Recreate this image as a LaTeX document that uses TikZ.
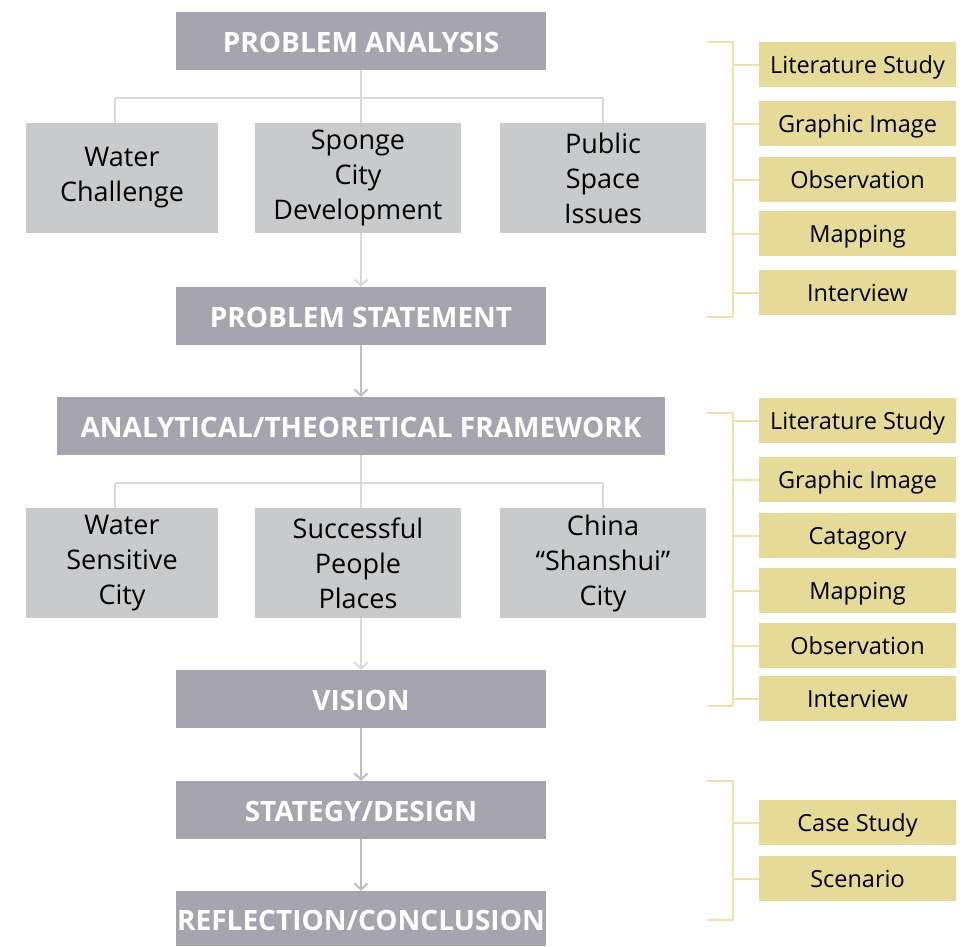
\documentclass[tikz,border=0pt]{standalone}
\usepackage{fontspec}
\setmainfont{Open Sans}
\usetikzlibrary{arrows.meta}
\definecolor{headgray}{RGB}{166,165,175}
\definecolor{subgray}{RGB}{201,202,204}
\definecolor{toolgold}{RGB}{230,218,152}
\definecolor{bracketgold}{RGB}{238,228,170}
\definecolor{linkgray}{RGB}{217,217,217}
\definecolor{flowgray}{RGB}{190,190,194}
\begin{document}
\begin{tikzpicture}[x=1pt,y=-1pt,>={Straight Barb[length=6pt,width=13pt]},
  head/.style={fill=headgray,minimum width=370pt,minimum height=58pt,inner sep=0pt,text=white,text height=23pt,text depth=0pt,font=\fontsize{28}{32}\selectfont\bfseries},
  sub/.style={fill=subgray,minimum width=206pt,minimum height=110pt,inner sep=0pt,align=center,font=\fontsize{27}{35}\selectfont},
  tool/.style={fill=toolgold,minimum width=197pt,minimum height=45pt,inner sep=0pt,text height=18pt,text depth=0pt,font=\fontsize{23.5}{28}\selectfont},
  link/.style={draw=linkgray,line width=2pt},
  flow/.style={draw=flowgray,line width=2pt},
  brk/.style={draw=bracketgold,line width=2pt}]
\useasboundingbox (0,0) rectangle (966,946);
% main column
\node[head] (pa) at (361,41) {PROBLEM ANALYSIS};
\node[sub,minimum width=192pt] (wc) at (122,178) {Water\\Challenge};
\node[sub] (sc) at (358,178) {Sponge\\City\\Development};
\node[sub] (ps) at (603,178) {Public\\Space\\Issues};
\node[head] (pst) at (361,316) {PROBLEM STATEMENT};
\node[head,minimum width=608pt] (atf) at (361,426) {ANALYTICAL/THEORETICAL FRAMEWORK};
\node[sub,minimum width=192pt] (ws) at (122,563) {Water\\Sensitive\\City};
\node[sub] (sp) at (358,563) {Successful\\People\\Places};
\node[sub] (cs) at (603,563) {China\\“Shanshui”\\City};
\node[head] (vi) at (361,699) {VISION};
\node[head] (sd) at (361,810) {STATEGY/DESIGN};
\node[head,minimum height=55pt] (rc) at (361,918.5) {REFLECTION/CONCLUSION};
% branches
\coordinate (ja) at (361,98);
\coordinate (jal) at (115,98);
\coordinate (jar) at (603,98);
\coordinate (jb) at (361,483);
\coordinate (jbl) at (115,483);
\coordinate (jbr) at (603,483);
\draw[link] (pa.south) -- (ja);
\draw[link] (jal) -- (jar);
\draw[link] (jal) -- (jal |- wc.north);
\draw[link] (ja) -- (ja |- sc.north);
\draw[link] (jar) -- (jar |- ps.north);
\draw[link,->] (sc.south -| pst.north) -- (pst.north);
\draw[flow,->] (pst.south) -- (atf.north);
\draw[link] (atf.south) -- (jb);
\draw[link] (jbl) -- (jbr);
\draw[link] (jbl) -- (jbl |- ws.north);
\draw[link] (jb) -- (jb |- sp.north);
\draw[link] (jbr) -- (jbr |- cs.north);
\draw[link,->] (sp.south -| vi.north) -- (vi.north);
\draw[flow,->] (vi.south) -- (sd.north);
\draw[flow,->] (sd.south) -- (rc.north);
% methods, first group
\node[tool] (m1a) at (857.5,64.5) {Literature Study};
\node[tool] (m1b) at (857.5,123.5) {Graphic Image};
\node[tool] (m1c) at (857.5,179.5) {Observation};
\node[tool] (m1d) at (857.5,233.5) {Mapping};
\node[tool] (m1e) at (857.5,292.5) {Interview};
\coordinate (b1t) at (733,42);
\coordinate (b1b) at (733,317);
\draw[brk] (b1t) ++(-26,0) -- (b1t) -- (b1b) -- ++(-26,0);
\foreach \m in {m1a,m1b,m1c,m1d,m1e}
  \draw[brk] (\m.west -| b1t) -- (\m.west);
% methods, second group
\node[tool] (m2a) at (857.5,420.5) {Literature Study};
\node[tool] (m2b) at (857.5,479.5) {Graphic Image};
\node[tool] (m2c) at (857.5,535.5) {Catagory};
\node[tool] (m2d) at (857.5,590.5) {Mapping};
\node[tool] (m2e) at (857.5,645.5) {Observation};
\node[tool] (m2f) at (857.5,698.5) {Interview};
\coordinate (b2t) at (733,413);
\coordinate (b2b) at (733,706);
\draw[brk] (b2t) ++(-26,0) -- (b2t) -- (b2b) -- ++(-26,0);
\foreach \m in {m2a,m2b,m2c,m2d,m2e,m2f}
  \draw[brk] (\m.west -| b2t) -- (\m.west);
% methods, third group
\node[tool] (m3a) at (857.5,822.5) {Case Study};
\node[tool] (m3b) at (857.5,878.5) {Scenario};
\coordinate (b3t) at (733,781);
\coordinate (b3b) at (733,920);
\draw[brk] (b3t) ++(-26,0) -- (b3t) -- (b3b) -- ++(-26,0);
\foreach \m in {m3a,m3b}
  \draw[brk] (\m.west -| b3t) -- (\m.west);
\end{tikzpicture}
\end{document}
